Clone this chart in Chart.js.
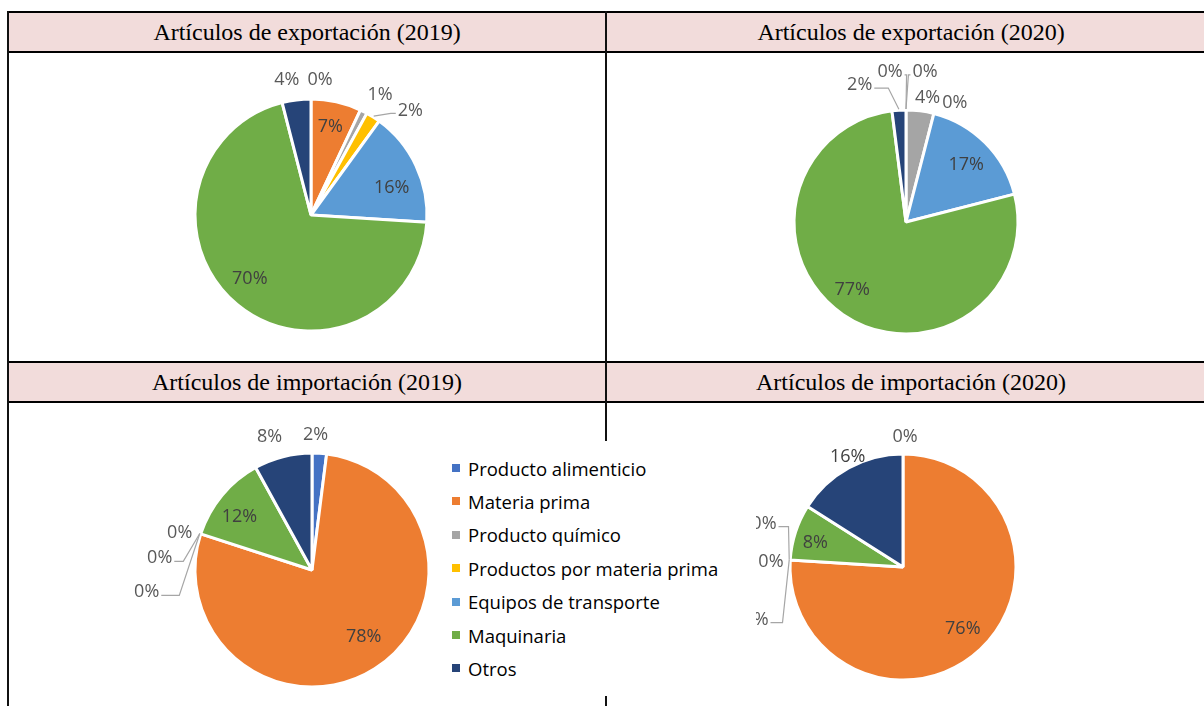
<!DOCTYPE html>
<html>
<head>
<meta charset="utf-8">
<script src="https://cdn.jsdelivr.net/npm/chart.js@4"></script>
<style>
  html, body { margin: 0; padding: 0; background: #fff; }
  #page { position: relative; width: 1204px; height: 706px; overflow: hidden; }
  .hdr { position: absolute; background: #F2DCDB; font-family: "Liberation Serif", "Times New Roman", serif;
         font-size: 24px; color: #000; text-align: center; display: flex; align-items: center; justify-content: center; }
  .hline { position: absolute; left: 8px; width: 1210px; height: 2px; background: #000; }
  .vline { position: absolute; width: 2px; background: #111; }
  .pie { position: absolute; }
  #legend { position: absolute; left: 440px; top: 441px; width: 316px; height: 255px; background: #fff; z-index: 2;
            font-family: "Open Sans", sans-serif; font-size: 18.5px; color: #000; }
  .item { position: absolute; left: 12px; height: 24px; display: flex; align-items: center; }
  .sw { width: 8px; height: 8px; margin-right: 8px; }
</style>
</head>
<body>
<div id="page">
  <div class="hdr" style="left:8px; top:12px; width:598px; height:40px;" id="t0"></div>
  <div class="hdr" style="left:606px; top:12px; width:610px; height:40px;" id="t1"></div>
  <div class="hdr" style="left:8px; top:362px; width:598px; height:40px;" id="t2"></div>
  <div class="hdr" style="left:606px; top:362px; width:610px; height:40px;" id="t3"></div>
  <div class="hline" style="top:11px;"></div>
  <div class="hline" style="top:51px;"></div>
  <div class="hline" style="top:361px;"></div>
  <div class="hline" style="top:401px;"></div>
  <div class="vline" style="left:7px; top:11px; height:700px;"></div>
  <div class="vline" style="left:605px; top:11px; height:700px;"></div>

  <canvas class="pie" id="c0" width="400" height="400" style="left:111px; top:15px;"></canvas>
  <canvas class="pie" id="c1" width="400" height="400" style="left:706px; top:22px;"></canvas>
  <canvas class="pie" id="c2" width="400" height="400" style="left:112px; top:370px;"></canvas>
  <canvas class="pie" id="c3" width="400" height="400" style="left:703px; top:367px;"></canvas>

  <div id="legend"></div>
</div>
<script>
// Data
const categories = ['Producto alimenticio', 'Materia prima', 'Producto químico', 'Productos por materia prima',
  'Equipos de transporte', 'Maquinaria', 'Otros'];
const titles = ['Artículos de exportación (2019)', 'Artículos de exportación (2020)',
  'Artículos de importación (2019)', 'Artículos de importación (2020)'];
const export2019 = [0, 7, 1, 2, 16, 70, 4];
const export2020 = [0, 0, 4, 0, 17, 77, 2];
const import2019 = [2, 78, 0, 0, 0, 12, 8];
const import2020 = [0, 76, 0, 0, 0, 8, 16];

const SLICE_COLORS = ['#4472C4', '#ED7D31', '#A5A5A5', '#FFC000', '#5B9BD5', '#70AD47', '#264478'];

// label placement per slice: [outside?, dx, dy, leader side, stub]
const LABELS = [
  [[1, 9, 2], [0, 0, -2], [1, 7, 2], [1, 26, 11, 'left', 5], [0, 1, 10], [0, -5, -4], [1, -7, 1]],
  [[1, -16, -18, 'right', 2], [1, 19, -18, 'left', 2], [1, 5, 7], [1, 16, 9], [0, 0, 3], [0, -6, -3], [1, -38, -5, 'right', 14]],
  [[1, -5, 3], [0, 4, -8], [1, -1, 6], [1, -21, 31, 'right', 9], [1, -34, 65, 'right', 18], [0, -4, 4], [1, -8, 1]],
  [[1, 2, 3], [0, 1, -1], [1, -6, -35, 'right', 10], [1, 1, 3], [1, -14, 61, 'right', 12], [0, -6, 2], [0, -14, -35]]
];

const sliceLabels = {
  id: 'sliceLabels',
  afterDatasetsDraw(chart, args, opts) {
    const ctx = chart.ctx;
    const values = chart.data.datasets[0].data;
    const meta = chart.getDatasetMeta(0);
    ctx.save();
    ctx.font = '18px "Open Sans", sans-serif';
    ctx.textAlign = 'center';
    ctx.textBaseline = 'middle';
    meta.data.forEach((arc, i) => {
      const [out, dx, dy, leader, stub] = opts.specs[i];
      const { x, y, startAngle, endAngle, outerRadius } =
        arc.getProps(['x', 'y', 'startAngle', 'endAngle', 'outerRadius'], true);
      const mid = (startAngle + endAngle) / 2;
      const k = out ? 1.18 : 0.76;
      const lx = x + Math.cos(mid) * outerRadius * k + dx;
      const ly = y + Math.sin(mid) * outerRadius * k + dy;
      const text = Math.round(values[i]) + '%';
      ctx.fillStyle = out ? '#595959' : '#404040';
      ctx.fillText(text, lx, ly);
      if (leader) {
        const w = ctx.measureText(text).width;
        const dir = leader === 'right' ? 1 : -1;
        const sx = lx + dir * (w / 2 + 2);
        const ex = x + Math.cos(mid) * (outerRadius + 1);
        const ey = y + Math.sin(mid) * (outerRadius + 1);
        ctx.strokeStyle = '#A6A6A6';
        ctx.lineWidth = 1.2;
        ctx.beginPath();
        ctx.moveTo(sx, ly + 3);
        ctx.lineTo(sx + dir * stub, ly + 3);
        ctx.lineTo(ex, ey);
        ctx.stroke();
      }
    });
    ctx.restore();
  }
};

const makePie = (id, values, radius, specs) => {
  return new Chart(document.getElementById(id), {
    type: 'pie',
    data: {
      labels: categories,
      datasets: [{
        data: values,
        backgroundColor: SLICE_COLORS,
        borderColor: '#fff',
        borderWidth: 3,
        radius: radius
      }]
    },
    options: {
      responsive: false,
      animation: false,
      events: [],
      layout: { padding: 0 },
      plugins: {
        legend: { display: false },
        tooltip: { enabled: false },
        sliceLabels: { specs: specs }
      }
    },
    plugins: [sliceLabels]
  });
};

titles.forEach((t, i) => { document.getElementById('t' + i).textContent = t; });

makePie('c0', export2019, 116, LABELS[0]);
makePie('c1', export2020, 112, LABELS[1]);
makePie('c2', import2019, 117, LABELS[2]);
makePie('c3', import2020, 113, LABELS[3]);

// Legend
const legend = document.getElementById('legend');
categories.forEach((name, i) => {
  const row = document.createElement('div');
  row.className = 'item';
  row.style.top = (15 + i * 33.4) + 'px';
  row.innerHTML = '<span class="sw" style="background:' + SLICE_COLORS[i] + '"></span><span>' + name + '</span>';
  legend.appendChild(row);
});
</script>
</body>
</html>
